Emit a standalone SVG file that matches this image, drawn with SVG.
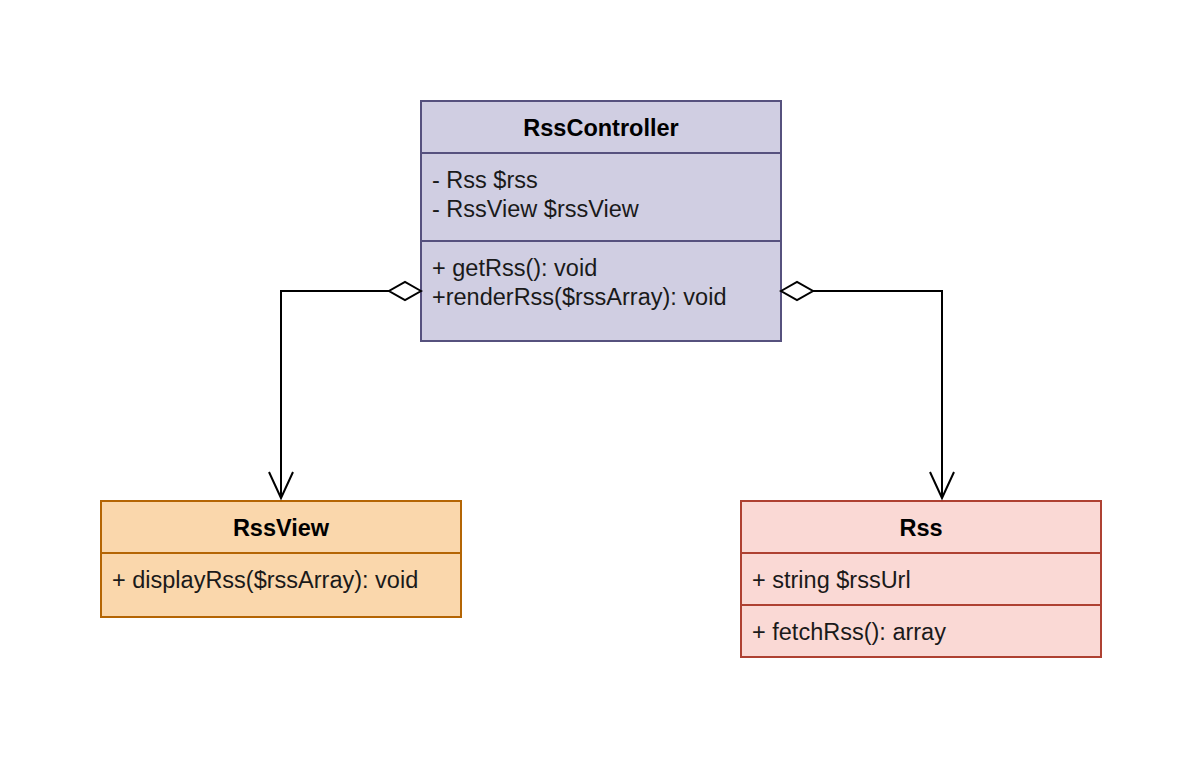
<svg xmlns="http://www.w3.org/2000/svg" width="1202" height="764" viewBox="0 0 1202 764">
<style>
text{font-family:"Liberation Sans",Arial,sans-serif;font-size:23.5px;fill:#1a1a1a}
.t{font-weight:bold;text-anchor:middle;fill:#000}
.c{stroke:#000;stroke-width:2;fill:none}
.h{stroke:#000;stroke-width:2;fill:none}
.d{fill:#fff;stroke:#000;stroke-width:2}
</style>
<rect width="1202" height="764" fill="#fff"/>
<g id="RssController">
<rect x="421" y="101" width="360" height="240" fill="#d0cee2" stroke="#56517e" stroke-width="2"/>
<line x1="421" y1="153" x2="781" y2="153" stroke="#56517e" stroke-width="2"/>
<line x1="421" y1="241" x2="781" y2="241" stroke="#56517e" stroke-width="2"/>
<text class="t" x="601" y="136">RssController</text>
<text x="432" y="188">- Rss $rss</text>
<text x="432" y="217">- RssView $rssView</text>
<text x="432" y="276">+ getRss(): void</text>
<text x="432" y="305">+renderRss($rssArray): void</text>
</g>
<g id="RssView">
<rect x="101" y="501" width="360" height="116" fill="#fad7ac" stroke="#b46504" stroke-width="2"/>
<line x1="101" y1="553" x2="461" y2="553" stroke="#b46504" stroke-width="2"/>
<text class="t" x="281" y="536">RssView</text>
<text x="112" y="588">+ displayRss($rssArray): void</text>
</g>
<g id="Rss">
<rect x="741" y="501" width="360" height="156" fill="#fad9d5" stroke="#ae4132" stroke-width="2"/>
<line x1="741" y1="553" x2="1101" y2="553" stroke="#ae4132" stroke-width="2"/>
<line x1="741" y1="605" x2="1101" y2="605" stroke="#ae4132" stroke-width="2"/>
<text class="t" x="921" y="536">Rss</text>
<text x="752" y="588">+ string $rssUrl</text>
<text x="752" y="640">+ fetchRss(): array</text>
</g>
<g id="connectors">
<path class="c" d="M389,291 H281 V498"/>
<path class="h" d="M269,472 L281,498 L293,472"/>
<path class="d" d="M421,291 L405,282 L389,291 L405,300 Z"/>
<path class="c" d="M813,291 H942 V498"/>
<path class="h" d="M930,472 L942,498 L954,472"/>
<path class="d" d="M781,291 L797,282 L813,291 L797,300 Z"/>
</g>
</svg>
